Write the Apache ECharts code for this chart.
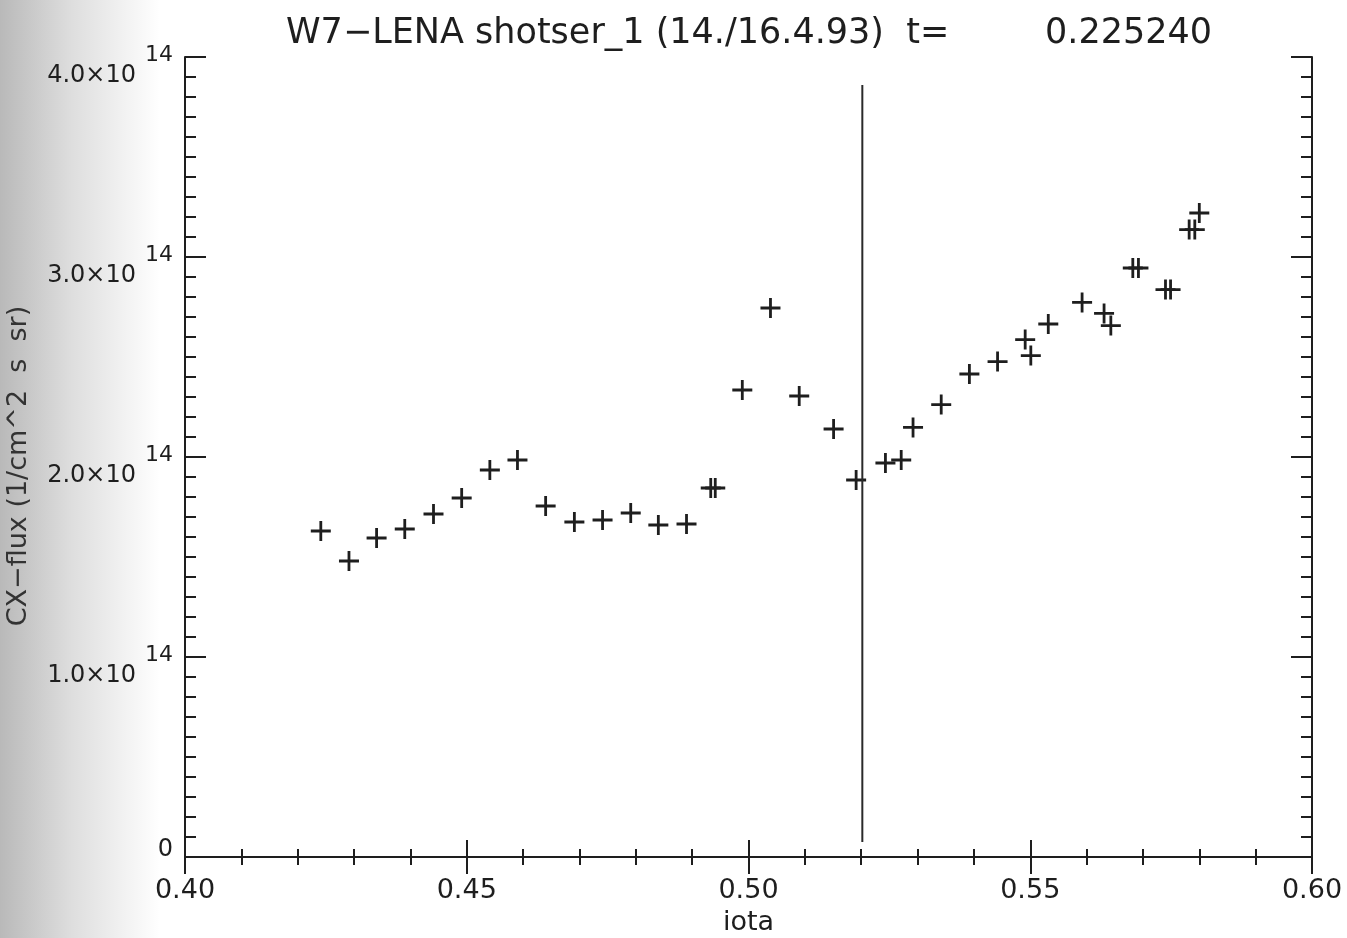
<!DOCTYPE html>
<html>
<head>
<meta charset="utf-8">
<script src="https://cdn.jsdelivr.net/npm/echarts@6/dist/echarts.min.js"></script>
<style>
html,body{margin:0;padding:0;background:#fff;}
#chart{width:1347px;height:938px;}
</style>
</head>
<body>
<div id="chart"></div>
<script>
// ---- data ----
const titleMain = "W7\u2212LENA shotser_1 (14./16.4.93)  t=";
const titleTime = "0.225240";
const xName = "iota";
const yName = "CX\u2212flux (1/cm^2  s  sr)";
const iota = [0.4241,0.4291,0.4340,0.4390,0.4441,0.4491,0.4541,0.4590,0.4640,0.4691,
              0.4741,0.4791,0.4840,0.4890,0.4933,0.4941,0.4989,0.5039,0.5090,0.5151,
              0.5191,0.5243,0.5271,0.5292,0.5342,0.5392,0.5442,0.5491,0.5501,0.5532,
              0.5592,0.5631,0.5643,0.5682,0.5692,0.5740,0.5749,0.5782,0.5792,0.5800];
const flux = [1.63,1.48,1.595,1.64,1.715,1.795,1.935,1.985,1.755,1.675,
              1.685,1.72,1.66,1.665,1.845,1.845,2.335,2.745,2.305,2.14,
              1.885,1.97,1.985,2.148,2.262,2.415,2.477,2.587,2.507,2.665,
              2.773,2.718,2.657,2.945,2.945,2.837,2.837,3.137,3.137,3.22]; // ×1e14
const markerX = [0.5202,0.5202];
const markerY = [0.075,3.86]; // ×1e14
const xMin = 0.40, xMax = 0.60, xStep = 0.05;
const yMin = 0, yMax = 4.0, yStep = 1.0; // ×1e14
const yExp = 14;

const scale = Math.pow(10, yExp);
const points = iota.map((x,i)=>[x, flux[i]*scale]);
const vline = markerX.map((x,i)=>[x, markerY[i]*scale]);

const ink = '#1e1e1e';
const font = '"DejaVu Sans", sans-serif';
const crossPath = 'path://M8.6,0H11.4V8.6H20V11.4H11.4V20H8.6V11.4H0V8.6H8.6Z';

function yLabel(v){
  if (Math.abs(v) < 1e-6*scale) return '{z|0}';
  return '{b|' + (v/scale).toFixed(1) + '\u00d710}{s|' + yExp + '}';
}

const axisLine = {show:true, lineStyle:{color:ink, width:2}};
const chart = echarts.init(document.getElementById('chart'), null, {renderer:'canvas'});
chart.setOption({
  backgroundColor:'#ffffff',
  animation:false,
  graphic:[{
    type:'rect', left:0, top:0, z:-10, silent:true,
    shape:{width:160, height:938},
    style:{fill:new echarts.graphic.LinearGradient(0,0,1,0,[
      {offset:0, color:'#b9b9b9'},{offset:0.45,color:'#dedede'},{offset:1, color:'#ffffff'}])}
  }],
  title:[
    {text:titleMain, left:281, top:11, textStyle:{fontFamily:font, fontSize:35, fontWeight:'normal', color:ink}},
    {text:titleTime, left:1040, top:11, textStyle:{fontFamily:font, fontSize:35, fontWeight:'normal', color:ink}}
  ],
  grid:{left:185, right:35, top:57, bottom:81, show:false, outerBoundsMode:'none', containLabel:false},
  xAxis:[
    {type:'value', position:'bottom', min:xMin, max:xMax, interval:xStep,
     name:xName, nameLocation:'middle', nameGap:52,
     nameTextStyle:{fontFamily:font, fontSize:27, color:ink},
     axisLine:axisLine,
     axisTick:{show:true, inside:true, length:17, lineStyle:{color:ink, width:2}},
     minorTick:{show:true, splitNumber:5, length:8, lineStyle:{color:ink, width:2}},
     splitLine:{show:false},
     axisLabel:{fontFamily:font, fontSize:27, color:ink, margin:20,
       formatter:v=>v.toFixed(2)}},
    {type:'value', position:'top', min:xMin, max:xMax, interval:xStep,
     axisLine:axisLine,
     axisTick:{show:true, inside:true, length:17, lineStyle:{color:ink, width:2}},
     minorTick:{show:true, splitNumber:5, length:8, lineStyle:{color:ink, width:2}},
     splitLine:{show:false}, axisLabel:{show:false}}
  ],
  yAxis:[
    {type:'value', position:'left', min:yMin*scale, max:yMax*scale, interval:yStep*scale,
     name:yName, nameLocation:'middle', nameGap:153, nameRotate:90,
     nameTextStyle:{fontFamily:font, fontSize:27, color:'#333', padding:[0,18,0,0]},
     axisLine:axisLine,
     axisTick:{show:true, inside:true, length:21, lineStyle:{color:ink, width:2}},
     minorTick:{show:true, splitNumber:10, length:11, lineStyle:{color:ink, width:2}},
     splitLine:{show:false},
     axisLabel:{margin:12, formatter:yLabel, padding:[18,0,0,0],
       rich:{
         b:{fontFamily:font, fontSize:24, color:ink, verticalAlign:'bottom', lineHeight:44},
         s:{fontFamily:font, fontSize:22, color:ink, verticalAlign:'top', lineHeight:44, padding:[0,0,0,9]},
         z:{fontFamily:font, fontSize:24, color:ink, verticalAlign:'top', lineHeight:56}
       }}},
    {type:'value', position:'right', min:yMin*scale, max:yMax*scale, interval:yStep*scale,
     axisLine:axisLine,
     axisTick:{show:true, inside:true, length:21, lineStyle:{color:ink, width:2}},
     minorTick:{show:true, splitNumber:10, length:11, lineStyle:{color:ink, width:2}},
     splitLine:{show:false}, axisLabel:{show:false}}
  ],
  series:[
    {type:'scatter', xAxisIndex:0, yAxisIndex:0, data:points,
     symbol:crossPath, symbolSize:20, itemStyle:{color:ink, opacity:1}},
    {type:'line', xAxisIndex:0, yAxisIndex:0, data:vline, showSymbol:false, symbol:'none',
     lineStyle:{color:'#2a2a2a', width:2}}
  ]
});
</script>
</body>
</html>
